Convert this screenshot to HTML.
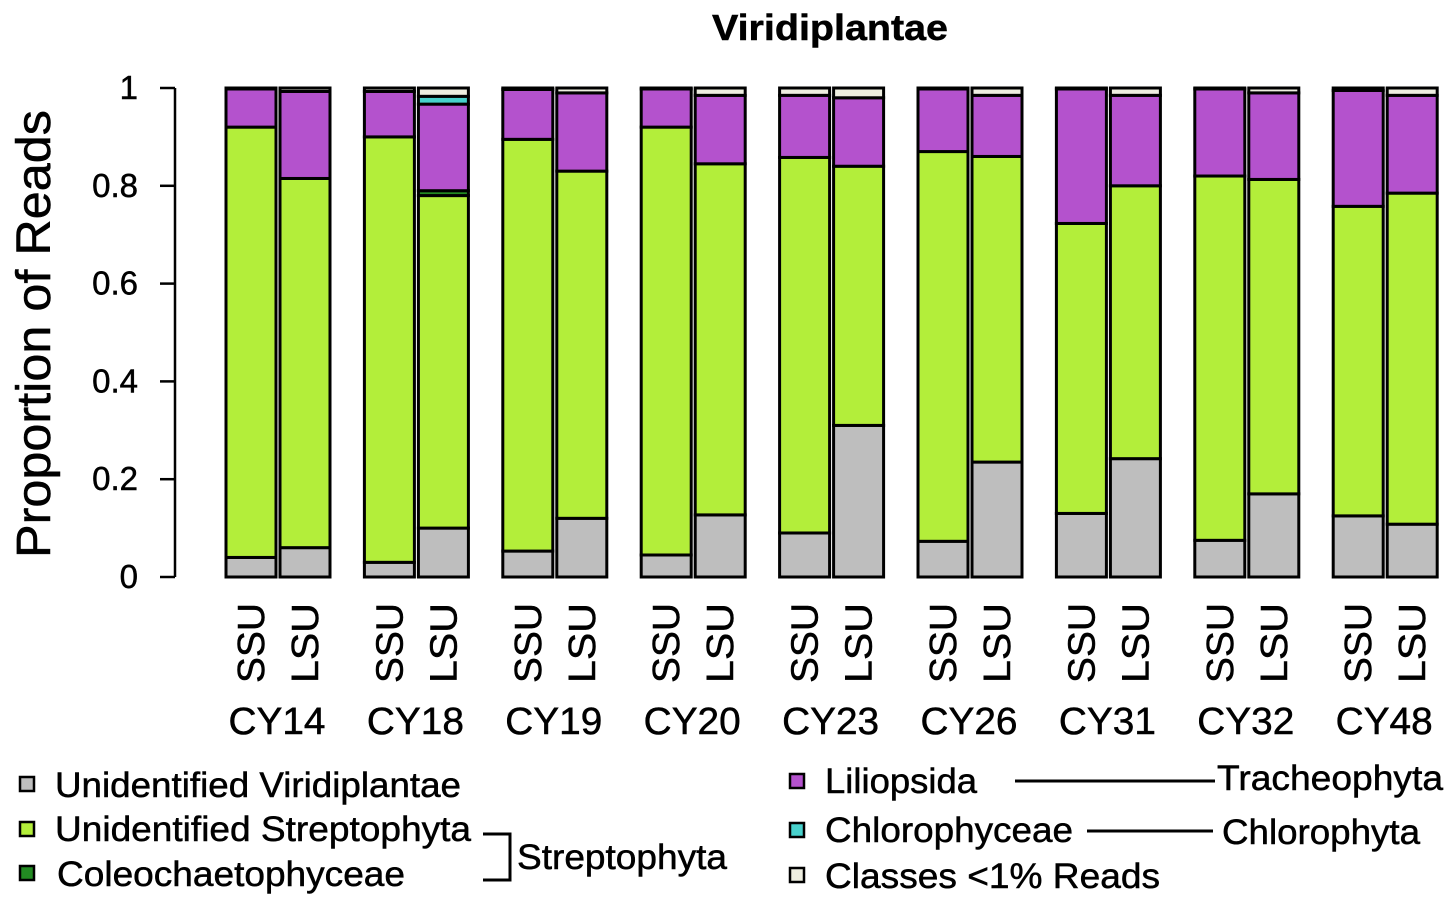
<!DOCTYPE html>
<html><head><meta charset="utf-8"><style>
body{margin:0;background:#fff;}
svg{display:block;font-family:"Liberation Sans",Arial,sans-serif;}
svg text{stroke:#000;stroke-width:0.5px;}
</style></head><body>
<svg id="chart" width="1455" height="907" viewBox="0 0 1455 907">
<text x="830" y="40" font-size="36" font-weight="bold" text-anchor="middle" textLength="236" lengthAdjust="spacingAndGlyphs">Viridiplantae</text>
<text transform="translate(50,334) rotate(-90)" font-size="48" text-anchor="middle" textLength="448" lengthAdjust="spacingAndGlyphs">Proportion of Reads</text>
<g id="axis"></g>
<g id="bars"></g>
<g id="xlabels"></g>
<g font-size="35">
  <rect x="20" y="777" width="14" height="14" fill="#bebebe" stroke="#000" stroke-width="2.5"/>
  <text x="55" y="797" textLength="406" lengthAdjust="spacingAndGlyphs">Unidentified Viridiplantae</text>
  <rect x="20" y="822" width="14" height="14" fill="#b3ee3a" stroke="#000" stroke-width="2.5"/>
  <text x="55" y="841" textLength="416" lengthAdjust="spacingAndGlyphs">Unidentified Streptophyta</text>
  <rect x="20" y="866" width="14" height="14" fill="#228b22" stroke="#000" stroke-width="2.5"/>
  <text x="57" y="886" textLength="348" lengthAdjust="spacingAndGlyphs">Coleochaetophyceae</text>
  <path d="M483 834 H510 V880 H483" fill="none" stroke="#000" stroke-width="3"/>
  <text x="517" y="869" textLength="210" lengthAdjust="spacingAndGlyphs">Streptophyta</text>
  <rect x="790" y="774" width="14" height="14" fill="#b452cd" stroke="#000" stroke-width="2.5"/>
  <text x="825" y="793" textLength="152" lengthAdjust="spacingAndGlyphs">Liliopsida</text>
  <line x1="1015" y1="781" x2="1215" y2="781" stroke="#000" stroke-width="3"/>
  <text x="1217" y="790" textLength="226" lengthAdjust="spacingAndGlyphs">Tracheophyta</text>
  <rect x="790" y="823" width="14" height="14" fill="#48d1cc" stroke="#000" stroke-width="2.5"/>
  <text x="825" y="842" textLength="248" lengthAdjust="spacingAndGlyphs">Chlorophyceae</text>
  <line x1="1087" y1="831" x2="1213" y2="831" stroke="#000" stroke-width="3"/>
  <text x="1222" y="844" textLength="198" lengthAdjust="spacingAndGlyphs">Chlorophyta</text>
  <rect x="790" y="868" width="14" height="14" fill="#eeeee0" stroke="#000" stroke-width="2.5"/>
  <text x="825" y="888" textLength="335" lengthAdjust="spacingAndGlyphs">Classes &lt;1% Reads</text>
</g>
</svg>
<script>
const sites = ["CY14","CY18","CY19","CY20","CY23","CY26","CY31","CY32","CY48"];
const markers = ["SSU","LSU"];
// cumulative tops per sample (order: SSU, LSU per site)
const unidViri = [0.04,0.06, 0.03,0.10, 0.053,0.12, 0.045,0.127, 0.09,0.31, 0.073,0.235, 0.13,0.242, 0.075,0.17, 0.125,0.108];
const unidStrep = [0.92,0.815, 0.90,0.78, 0.895,0.83, 0.92,0.845, 0.858,0.84, 0.87,0.86, 0.723,0.80, 0.82,0.813, 0.758,0.785];
const coleo = [0.92,0.815, 0.90,0.79, 0.895,0.83, 0.92,0.845, 0.858,0.84, 0.87,0.86, 0.723,0.80, 0.82,0.813, 0.758,0.785];
const liliopsida = [0.998,0.993, 0.993,0.967, 0.997,0.99, 0.998,0.985, 0.985,0.98, 0.998,0.985, 0.998,0.985, 0.998,0.99, 0.995,0.985];
const chlorophyceae = [0.998,0.993, 0.993,0.983, 0.997,0.99, 0.998,0.985, 0.985,0.98, 0.998,0.985, 0.998,0.985, 0.998,0.99, 0.995,0.985];
const yTicks = [0,0.2,0.4,0.6,0.8,1];
const yTickLabels = ["0","0.2","0.4","0.6","0.8","1"];

const NS="http://www.w3.org/2000/svg";
function y(v){return 577-v*489;}
function xBar(i){return 226+Math.floor(i/2)*138.4+(i%2)*54;}
const bw=50;
function mk(tag,attrs,parent){const e=document.createElementNS(NS,tag);for(const k in attrs)e.setAttribute(k,attrs[k]);parent.appendChild(e);return e;}

const ax=document.getElementById('axis');
let l=mk('line',{x1:175,y1:y(0),x2:175,y2:y(1),stroke:'#000','stroke-width':2.5},ax);


yTicks.forEach((t,i)=>{
  const tk=mk('line',{x1:160,y1:y(t),x2:175,y2:y(t),stroke:'#000','stroke-width':2.5},ax);
  
  
  const tx=mk('text',{x:138,y:y(t)+11,'font-size':33,'text-anchor':'end'},ax);
  tx.textContent=yTickLabels[i];
  
  
});

const bars=document.getElementById('bars');
const colors=['#bebebe','#b3ee3a','#228b22','#b452cd','#48d1cc','#eeeee0'];
const segNames=['unidentified-viridiplantae','unidentified-streptophyta','coleochaetophyceae','liliopsida','chlorophyceae','classes-lt-1pct'];
for(let i=0;i<unidViri.length;i++){
  const tops=[unidViri[i],unidStrep[i],coleo[i],liliopsida[i],chlorophyceae[i],1];
  let prev=0;
  const x=xBar(i);
  tops.forEach((t,k)=>{
    if(t-prev>0.0005){
      const r=mk('rect',{x:x,y:y(t),width:bw,height:y(prev)-y(t),fill:colors[k],stroke:'#000','stroke-width':3},bars);
      
      
    }
    prev=t;
  });
}

const xl=document.getElementById('xlabels');
for(let i=0;i<unidViri.length;i++){
  const cx=xBar(i)+bw/2;
  const t=mk('text',{transform:`translate(${cx+13},643) rotate(-90)`,'font-size':38,'text-anchor':'middle',textLength:80,lengthAdjust:'spacingAndGlyphs'},xl);
  t.textContent=markers[i%2];
  
  
}
sites.forEach((s,g)=>{
  const cx=xBar(g*2)+51;
  const t=mk('text',{x:cx,y:734,'font-size':38,'text-anchor':'middle',textLength:97,lengthAdjust:'spacingAndGlyphs'},xl);
  t.textContent=s;
  
  
});
</script>
</body></html>
